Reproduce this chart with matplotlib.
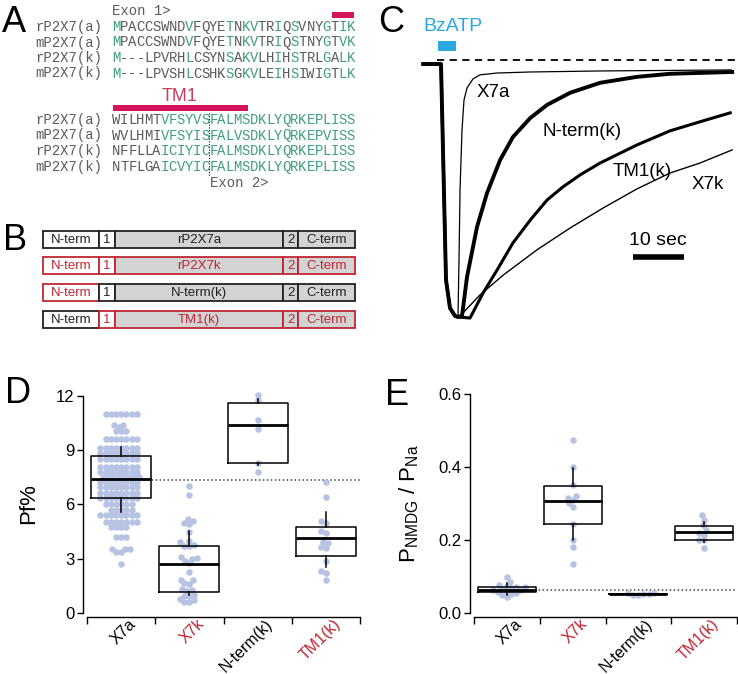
import numpy as np
import matplotlib.pyplot as plt
from matplotlib.patches import Rectangle
from matplotlib.transforms import ScaledTranslation

plt.rcParams['font.family'] = ['Liberation Sans', 'DejaVu Sans']
plt.rcParams['mathtext.fontset'] = 'custom'
plt.rcParams['mathtext.rm'] = 'Liberation Sans'

# ---------------- data ----------------
# Panel A: N-terminal / TM1 alignment
seq_names = ['rP2X7(a)', 'mP2X7(a)', 'rP2X7(k)', 'mP2X7(k)']
exon1_seqs = ['MPACCSWNDVFQYETNKVTRIQSVNYGTIK',
              'MPACCSWNDVFQYETNKVTRIQSTNYGTVK',
              'M---LPVRHLCSYNSAKVLHIHSTRLGALK',
              'M---LPVSHLCSHKSGKVLEIHSIWIGTLK']
exon1_mask = '100000000100001011001010001011'   # 1 = conserved (green)
exon2_seqs = ['WILHMTVFSYVSFALMSDKLYQRKEPLISS',
              'WVLHMIVFSYISFALVSDKLYQRKEPVISS',
              'NFFLLAICIYICFALMSDKLYQRKEPLISS',
              'NTFLGAICVYICFALMSDKLYQRKEPLISS']
exon2_mask = '000000111111111111111111111111'

# Panel B: chimeric constructs
construct_names = ['rP2X7a', 'rP2X7k', 'N-term(k)', 'TM1(k)']
segment_labels = ['N-term', '1', None, '2', 'C-term']
segment_fill = ['white', 'white', '#d3d3d3', '#d3d3d3', '#d3d3d3']
k_origin = [[0, 0, 0, 0, 0],
            [1, 1, 1, 1, 1],
            [1, 0, 0, 0, 0],
            [0, 1, 1, 1, 1]]

# Panel C: normalised BzATP currents (time in s, current / peak)
desc_t = [-3.5, 0.0, 0.39, 0.98, 1.76, 2.75, 3.33]
desc_i = [-0.016, -0.016, -0.35, -0.856, -0.965, -0.996, -1.0]
x7a_t = [3.53, 3.73, 4.12, 4.51, 5.1, 6.27, 7.65, 11.0, 17.5, 31.2, 56.9]
x7a_i = [-0.778, -0.506, -0.272, -0.156, -0.109, -0.074, -0.058, -0.051, -0.047, -0.043, -0.039]
nterm_t = [4.12, 5.1, 7.06, 9.02, 11.6, 14.1, 17.5, 20.8, 25.3, 31.2, 38.4, 44.9, 57.1]
nterm_i = [-0.996, -0.844, -0.650, -0.518, -0.389, -0.300, -0.226, -0.175, -0.128, -0.089, -0.066, -0.054, -0.047]
tm1_t = [5.69, 8.24, 11.0, 14.1, 17.5, 20.8, 23.9, 27.3, 31.2, 38.4, 44.9, 51.4, 56.7]
tm1_i = [-1.004, -0.907, -0.817, -0.712, -0.623, -0.545, -0.494, -0.447, -0.401, -0.331, -0.276, -0.237, -0.206]
x7k_t = [4.31, 7.65, 12.2, 18.8, 25.3, 31.8, 38.4, 44.9, 50.8, 57.1]
x7k_i = [-0.984, -0.914, -0.837, -0.739, -0.654, -0.576, -0.502, -0.440, -0.401, -0.350]

# Panels D/E
groups = ['X7a', 'X7k', 'N-term(k)', 'TM1(k)']
group_is_k = [False, True, False, True]

pf_x7a = [11.0, 11.0, 11.0, 11.0, 11.0, 11.0, 11.0,
          10.4, 10.4, 10.3, 10.05, 10.05, 10.05,
          9.6, 9.6, 9.6, 9.6, 9.6, 9.6, 9.6,
          9.15, 9.15, 9.15, 9.15, 9.15, 9.15, 9.15, 9.15,
          8.85, 8.85, 8.85, 8.85, 8.85, 8.85, 8.85, 8.85,
          8.5, 8.5, 8.5, 8.5, 8.5, 8.5, 8.5, 8.5,
          8.1, 8.1, 8.1, 8.1, 8.1, 8.1, 8.1, 8.1,
          7.8, 7.8, 7.8, 7.8, 7.8, 7.8, 7.8, 7.8,
          7.5, 7.5, 7.5, 7.5, 7.5, 7.5, 7.5, 7.5,
          7.25, 7.25, 7.25, 7.25, 7.25, 7.25, 7.25, 7.25,
          6.95, 6.95, 6.95, 6.95, 6.95, 6.95, 6.95, 6.95,
          6.65, 6.65, 6.65, 6.65, 6.65, 6.65, 6.65, 6.65,
          6.35, 6.35, 6.35, 6.35, 6.35, 6.35, 6.35, 6.35,
          6.0, 6.0, 6.0, 6.0, 6.0, 6.0,
          5.7, 5.7, 5.7, 5.7, 5.7,
          5.4, 5.4, 5.4, 5.4, 5.4, 5.4, 5.4, 5.4,
          5.05, 5.05, 5.05, 5.05, 5.05, 5.05, 5.05,
          4.75, 4.75, 4.75, 4.75,
          4.2, 4.2, 4.2, 3.55, 3.55, 3.55, 3.35, 3.35, 2.7]
pf_x7k = [7.0, 6.5, 5.2, 5.1, 5.0, 4.9, 4.5, 4.0, 3.9, 3.75, 3.7, 3.7, 3.1, 3.05, 3.0,
          2.9, 2.75, 2.25, 1.85, 1.8, 1.65, 1.6, 1.35, 1.3, 1.2, 1.0, 0.95, 0.95,
          0.75, 0.7, 0.6, 0.6]
pf_nterm = [12.05, 11.75, 10.65, 10.2, 8.3, 7.8]
pf_tm1 = [7.25, 6.4, 5.1, 5.0, 4.55, 4.4, 3.9, 3.85, 3.65, 3.6, 2.85, 2.35, 2.2, 1.8]
# box stats: (q1, median, q3, whisker low, whisker high)
pf_box = [(6.37, 7.42, 8.69, 5.59, 9.19),
          (1.16, 2.71, 3.71, 0.98, 4.54),
          (8.31, 10.41, 11.63, 8.2, 11.85),
          (3.16, 4.15, 4.76, 2.55, 5.6)]
pf_ref = 7.35

pr_x7a = [0.098, 0.085, 0.078, 0.075, 0.072, 0.070, 0.068, 0.066, 0.064, 0.062,
          0.060, 0.058, 0.055, 0.052, 0.050, 0.045]
pr_x7k = [0.475, 0.40, 0.35, 0.32, 0.315, 0.31, 0.30, 0.29, 0.245, 0.20, 0.18, 0.135]
pr_nterm = [0.056, 0.054, 0.053, 0.052, 0.050, 0.048]
pr_tm1 = [0.268, 0.255, 0.24, 0.228, 0.22, 0.215, 0.20, 0.20, 0.177]
pr_box = [(0.058, 0.064, 0.071, 0.049, 0.081),
          (0.243, 0.307, 0.349, 0.20, 0.397),
          (0.052, 0.052, 0.052, 0.052, 0.052),
          (0.20, 0.223, 0.239, 0.195, 0.25)]
pr_ref = 0.064

# ---------------- style ----------------
RED = '#bf2633'
BAR = '#d4145a'
GREEN = '#3f9f7c'
GREY = '#5a5a5a'
BLUE = '#29a9e0'
DOT = '#b8c3e3'
MONO = 'Liberation Mono'

W, H = 738, 674
fig = plt.figure(figsize=(W / 100, H / 100), dpi=100)


def px_axes(x0, y0, x1, y1):
    return fig.add_axes([x0 / W, 1 - y1 / H, (x1 - x0) / W, (y1 - y0) / H])


ov = px_axes(0, 0, W, H)
ov.set_xlim(0, W)
ov.set_ylim(H, 0)
ov.axis('off')

# panel letters
for letter, x, y in [('A', 2, 32), ('B', 3, 250), ('C', 378, 32), ('D', 5, 403), ('E', 385, 405)]:
    ov.text(x, y, letter, fontsize=26, ha='left', va='baseline')

# ---- Panel A ----
char_w = 8.1
seq_x0 = 112
blocks = [(exon1_seqs, exon1_mask, [31, 46.5, 62, 77.5]),
          (exon2_seqs, exon2_mask, [124, 139.5, 155, 171])]
for seqs, mask, baselines in blocks:
    for name, seq, yb in zip(seq_names, seqs, baselines):
        ov.text(102, yb, name, family=MONO, fontsize=10, color=GREY,
                ha='right', va='baseline')
        for k, ch in enumerate(seq):
            ov.text(seq_x0 + k * char_w, yb, ch, family=MONO, fontsize=10,
                    color=GREEN if mask[k] == '1' else GREY,
                    ha='left', va='baseline')

ov.text(seq_x0, 15, 'Exon 1>', family=MONO, fontsize=10, color=GREY, va='baseline')
ov.text(seq_x0 + 12 * char_w + 1, 187, 'Exon 2>', family=MONO, fontsize=10,
        color=GREY, va='baseline')
ov.plot([seq_x0 + 12 * char_w] * 2, [113, 176], color='black', lw=0.8, ls=(0, (1, 1.5)))
ov.add_patch(Rectangle((332, 12), 22, 5.5, color=BAR, lw=0))
ov.add_patch(Rectangle((113, 105), 135, 6, color=BAR, lw=0))
ov.text(180, 101, 'TM1', fontsize=13, color='#c8405f', ha='center', va='baseline')

# ---- Panel B ----
seg_edges = [43, 99, 115, 283, 298, 355]
row_tops = [231, 257, 284, 311]
row_h = 17
for r, name in enumerate(construct_names):
    for s in range(5):
        col = RED if k_origin[r][s] else '#222222'
        x0, x1 = seg_edges[s], seg_edges[s + 1]
        ov.add_patch(Rectangle((x0, row_tops[r]), x1 - x0, row_h,
                               facecolor=segment_fill[s], edgecolor=col, lw=1.3))
        lab = name if segment_labels[s] is None else segment_labels[s]
        ov.text((x0 + x1) / 2, row_tops[r] + row_h / 2 + 0.5, lab, fontsize=9.5,
                color=col, ha='center', va='center')

# ---- Panel C ----
axc = px_axes(415, 0, 738, 335)
axc.set_xlim(-5.1, 58.24)
axc.set_ylim(-1.070, 0.233)
axc.axis('off')
axc.plot([-0.8, 58.2], [0, 0], color='black', lw=1.3, ls=(0, (4, 3)))
traces = [(x7a_t, x7a_i, 0.9), (x7k_t, x7k_i, 1.0),
          (tm1_t, tm1_i, 2.2), (nterm_t, nterm_i, 2.8)]
for tt, ii, lw in traces:
    axc.plot(desc_t + tt, desc_i + ii, color='black', lw=lw,
             solid_joinstyle='round')
axc.add_patch(Rectangle((-0.55, 0.035), 3.5, 0.039, color=BLUE, lw=0))
axc.text(2.25, 0.130, 'BzATP', color=BLUE, fontsize=14, ha='center', va='center')
axc.plot([37.6, 47.6], [-0.767, -0.767], color='black', lw=4, solid_capstyle='butt')
axc.text(42.6, -0.702, '10 sec', fontsize=14, ha='center', va='center')
for lab, t, i in [('X7a', 7.06, -0.125), ('N-term(k)', 20.0, -0.28),
                  ('TM1(k)', 33.7, -0.436), ('X7k', 49.2, -0.486)]:
    axc.text(t, i, lab, fontsize=13.5, ha='left', va='center')


# ---- Panels D/E ----
def swarm(vals, d):
    vals = np.asarray(vals, dtype=float)
    offs = np.zeros(len(vals))
    placed = []
    for i in np.argsort(vals, kind='stable'):
        y = vals[i]
        cands = [0.0]
        for xj, yj in placed:
            dy = y - yj
            if abs(dy) < d:
                dx = np.sqrt(d * d - dy * dy)
                cands += [xj + dx, xj - dx]
        cands.sort(key=lambda c: (abs(c), c))
        for c in cands:
            if all((c - xj) ** 2 + (y - yj) ** 2 >= d * d - 1e-6 for xj, yj in placed):
                break
        offs[i] = c
        placed.append((c, y))
    return offs


def box_panel(ax, box_px, ylim, yticks, ytl, points, boxes, ref):
    x0, y0, x1, y1 = box_px
    ax.set_xlim(0, 4)
    ax.set_ylim(*ylim)
    ax.set_facecolor('none')
    sx = (x1 - x0) / 4.0
    sy = (y1 - y0) / (ylim[1] - ylim[0])
    pos = [0.5, 1.5, 2.5, 3.5]
    for p, vals in zip(pos, points):
        offs = swarm(np.asarray(vals) * sy, 5.2) / sx
        ax.scatter(p + offs, vals, s=22, color=DOT, lw=0, zorder=2)
    stats = [dict(q1=b[0], med=b[1], q3=b[2], whislo=b[3], whishi=b[4], fliers=[])
             for b in boxes]
    ax.bxp(stats, positions=pos, widths=0.88, showcaps=False, showfliers=False,
           manage_ticks=False,
           boxprops=dict(color='black', lw=1.1, zorder=3),
           whiskerprops=dict(color='black', lw=1.1, zorder=3),
           medianprops=dict(color='black', lw=2.0, zorder=4))
    ax.plot([0.07, 4.0], [ref, ref], color='#444444', lw=1.1, ls=(0, (1, 1.6)), zorder=1)
    for sp in ['top', 'right']:
        ax.spines[sp].set_visible(False)
    ax.spines['left'].set_position(('outward', 3))
    ax.spines['left'].set_bounds(yticks[0], yticks[-1])
    ax.spines['left'].set_linewidth(1.0)
    ax.spines['bottom'].set_linewidth(1.0)
    ax.set_yticks(yticks)
    ax.set_yticklabels(ytl)
    ax.tick_params(axis='y', length=4, width=1.0, labelsize=12, pad=2)
    ax.set_xticks([0, 1, 2, 3, 4])
    ax.set_xticklabels([])
    ax.tick_params(axis='x', which='major', length=5, width=1.0)
    ax.set_xticks(pos, minor=True)
    ax.set_xticklabels(groups, minor=True)
    ax.tick_params(axis='x', which='minor', length=0, labelsize=11.5, pad=1)
    shift = ScaledTranslation(0.07, 0.02, fig.dpi_scale_trans)
    for lbl, is_k in zip(ax.get_xticklabels(minor=True), group_is_k):
        lbl.set_rotation(45)
        lbl.set_ha('right')
        lbl.set_va('top')
        lbl.set_rotation_mode('anchor')
        lbl.set_color(RED if is_k else 'black')
        lbl.set_transform(lbl.get_transform() + shift)


axd = px_axes(87, 390, 360, 617)
box_panel(axd, (87, 390, 360, 617), (-0.22, 12.33), [0, 3, 6, 9, 12],
          ['0', '3', '6', '9', '12'],
          [pf_x7a, pf_x7k, pf_nterm, pf_tm1], pf_box, pf_ref)
axd.set_ylabel('Pf%', fontsize=16)
axd.yaxis.set_label_coords(-0.175, 0.5)

axe = px_axes(474, 390, 737, 617)
box_panel(axe, (474, 390, 737, 617), (-0.011, 0.611), [0.0, 0.2, 0.4, 0.6],
          ['0.0', '0.2', '0.4', '0.6'],
          [pr_x7a, pr_x7k, pr_nterm, pr_tm1], pr_box, pr_ref)
axe.set_ylabel(r'$\mathrm{P_{NMDG}}$ / $\mathrm{P_{Na}}$', fontsize=16)
axe.yaxis.set_label_coords(-0.2, 0.5)

fig.savefig('out.png', dpi=100)
